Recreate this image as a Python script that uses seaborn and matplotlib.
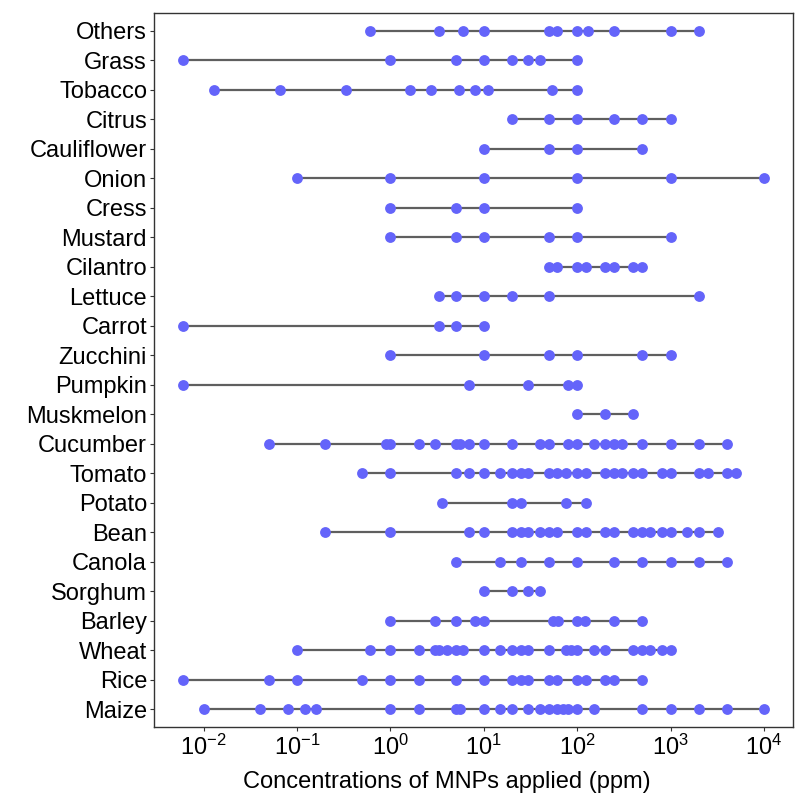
import numpy as np
import pandas as pd
import seaborn as sns
import matplotlib
matplotlib.use("Agg")
import matplotlib.pyplot as plt
from matplotlib.ticker import FixedLocator, LogFormatterMathtext, NullLocator

# Categories from top to bottom
crops = ["Others", "Grass", "Tobacco", "Citrus", "Cauliflower", "Onion", "Cress",
         "Mustard", "Cilantro", "Lettuce", "Carrot", "Zucchini", "Pumpkin",
         "Muskmelon", "Cucumber", "Tomato", "Potato", "Bean", "Canola", "Sorghum",
         "Barley", "Wheat", "Rice", "Maize"]

others = [0.6, 3.3, 6, 10, 50, 60, 100, 130, 250, 1000, 2000]
grass = [0.006, 1, 5, 10, 20, 30, 40, 100]
tobacco = [0.013, 0.065, 0.33, 1.6, 2.7, 5.4, 8, 11, 54, 100]
citrus = [20, 50, 100, 250, 500, 1000]
cauliflower = [10, 50, 100, 500]
onion = [0.1, 1, 10, 100, 1000, 10000]
cress = [1, 5, 10, 100]
mustard = [1, 5, 10, 50, 100, 1000]
cilantro = [50, 60, 100, 125, 200, 250, 400, 500]
lettuce = [3.3, 5, 10, 20, 50, 2000]
carrot = [0.006, 3.3, 5, 10]
zucchini = [1, 10, 50, 100, 500, 1000]
pumpkin = [0.006, 7, 30, 80, 100]
muskmelon = [100, 200, 400]
cucumber = [0.05, 0.2, 0.9, 1, 2, 3, 5, 5.6, 7, 10, 20, 40, 50, 80, 100, 150,
            200, 250, 300, 500, 1000, 2000, 4000]
tomato = [0.5, 1, 5, 7, 10, 15, 20, 25, 30, 50, 60, 75, 100, 125, 200, 250, 300,
          400, 500, 800, 1000, 2000, 2500, 4000, 5000]
potato = [3.6, 20, 25, 75, 125]
bean = [0.2, 1, 7, 10, 20, 25, 30, 40, 50, 60, 100, 125, 200, 250, 400, 500, 600,
        800, 1000, 1500, 2000, 3200]
canola = [5, 15, 25, 50, 100, 250, 500, 1000, 2000, 4000]
sorghum = [10, 20, 30, 40]
barley = [1, 3, 5, 8, 10, 55, 62, 100, 120, 250, 500]
wheat = [0.1, 0.6, 1, 2, 3, 3.3, 4, 5, 6, 10, 15, 20, 25, 30, 50, 75, 85, 100,
         150, 200, 400, 500, 600, 800, 1000]
rice = [0.006, 0.05, 0.1, 0.5, 1, 2, 5, 10, 20, 25, 30, 50, 60, 100, 125, 200,
        250, 500]
maize = [0.01, 0.04, 0.08, 0.12, 0.16, 1, 2, 5, 5.6, 10, 15, 20, 30, 40, 50, 60,
         70, 80, 100, 150, 500, 1000, 2000, 4000, 10000]

series = [others, grass, tobacco, citrus, cauliflower, onion, cress, mustard,
          cilantro, lettuce, carrot, zucchini, pumpkin, muskmelon, cucumber,
          tomato, potato, bean, canola, sorghum, barley, wheat, rice, maize]

xticks = [1e-2, 1e-1, 1e0, 1e1, 1e2, 1e3, 1e4]
xlabel = "Concentrations of MNPs applied (ppm)"

rows = []
for c, vals in zip(crops, series):
    for v in vals:
        rows.append({"crop": c, "conc": v})
df = pd.DataFrame(rows)
df["crop"] = pd.Categorical(df["crop"], categories=crops, ordered=True)

sns.set_style("white")
plt.rcParams["font.family"] = ["Liberation Sans", "DejaVu Sans"]
plt.rcParams["mathtext.fontset"] = "custom"
plt.rcParams["mathtext.rm"] = "Liberation Sans"
plt.rcParams["mathtext.it"] = "Liberation Sans:italic"
plt.rcParams["mathtext.bf"] = "Liberation Sans:bold"

fig = plt.figure(figsize=(7.95, 7.99), dpi=100)
W, H = 795, 799
left, right, top, bottom = 154, 793, 13.3, 726.7
ax = fig.add_axes([left / W, 1 - bottom / H, (right - left) / W, (bottom - top) / H])

# range lines (min to max per category)
rng = df.groupby("crop", observed=True)["conc"].agg(["min", "max"]).reindex(crops)
ax.hlines(y=np.arange(len(crops)), xmin=rng["min"].values, xmax=rng["max"].values,
          color="#5f5f5f", linewidth=1.6, zorder=1)

sns.stripplot(data=df, x="conc", y="crop", order=crops, jitter=False,
              color="#6464FA", size=7.8, linewidth=0, ax=ax, zorder=2,
              log_scale=True)

lo, hi = np.log10(df["conc"].min()), np.log10(df["conc"].max())
pad = 0.05 * (hi - lo)
ax.set_xlim(10 ** (lo - pad), 10 ** (hi + pad))
ax.set_ylim(len(crops) - 0.4, -0.6)

ax.xaxis.set_major_locator(FixedLocator(xticks))
ax.xaxis.set_major_formatter(LogFormatterMathtext())
ax.xaxis.set_minor_locator(NullLocator())

ax.set_xlabel(xlabel, fontsize=17, color="black", labelpad=2)
ax.xaxis.set_label_coords((447 - left) / (right - left), -0.062)
ax.set_ylabel("")
ax.tick_params(axis="both", which="major", length=3, width=0.8, color="#333333",
               labelsize=17, labelcolor="black", pad=2, direction="out",
               bottom=True, left=True)
ax.tick_params(axis="x", labelsize=17, pad=3)
for s in ax.spines.values():
    s.set_visible(True)
    s.set_color("#333333")
    s.set_linewidth(1.0)

fig.savefig("out.png", dpi=100)
